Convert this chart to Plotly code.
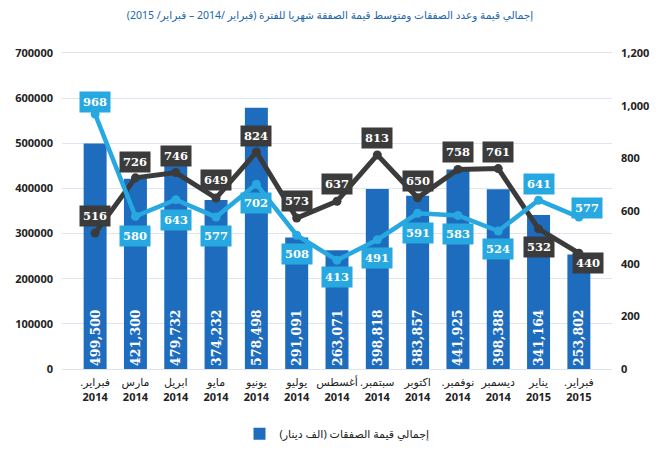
import plotly.graph_objects as go

RLM = "\u200f"
month_names = ["فبراير.", "مارس", "ابريل", "مايو", "يونيو", "يوليو", "أغسطس",
               "سبتمبر.", "اكتوبر", "نوفمبر.", "ديسمبر", "يناير", "فبراير."]
years = ["2014"] * 11 + ["2015"] * 2
total_value = [499500, 421300, 479732, 374232, 578498, 291091, 263071, 398818, 383857, 441925, 398388, 341164, 253802]
deal_count = [516, 726, 746, 649, 824, 573, 637, 813, 650, 758, 761, 532, 440]
avg_value = [968, 580, 643, 577, 702, 508, 413, 491, 591, 583, 524, 641, 577]

months = [f"{RLM}{m}{RLM}<br><b>{y}</b>" for m, y in zip(month_names, years)]

# label placement styling (pixel shifts)
dark_yshift = [17, 16, 17, 18, 16, 17, 17, 17, 17, 17, 17, -18, -10]
dark_xshift = [0] * 12 + [9]
light_yshift = [12, -20, -20, -19, -19, -19, -17, -18, -20, -19, -18, 16, 9]
light_xshift = [0] * 12 + [8]

BAR = "#1e6cbd"
LIGHT = "#27a8e0"
DARK = "#3b3b3b"

fig = go.Figure()
fig.add_trace(go.Bar(
    x=months, y=total_value, name="إجمالي قيمة الصفقات (الف دينار)",
    marker=dict(color=BAR, line=dict(width=0)),
    texttemplate="%{y:,}", textposition="inside", insidetextanchor="start",
    textangle=-90, constraintext="none",
    textfont=dict(family="DejaVu Serif", size=12.5, color="white", weight="bold"),
    yaxis="y", hoverinfo="skip",
))
fig.add_trace(go.Scatter(
    x=months, y=deal_count, mode="lines+markers", showlegend=False,
    line=dict(color=DARK, width=5), marker=dict(color=DARK, size=9),
    yaxis="y2", hoverinfo="skip",
))
fig.add_trace(go.Scatter(
    x=months, y=avg_value, mode="lines+markers", showlegend=False,
    line=dict(color=LIGHT, width=4.5), marker=dict(color=LIGHT, size=9),
    yaxis="y2", hoverinfo="skip",
))

annotations = []
for m, v, ys, xs in zip(months, deal_count, dark_yshift, dark_xshift):
    annotations.append(dict(x=m, y=v, xref="x", yref="y2", text=f"<b>{v}</b>", showarrow=False,
                            yshift=ys, xshift=xs, bgcolor=DARK, borderpad=3,
                            font=dict(family="DejaVu Serif", size=11.5, color="white")))
for m, v, ys, xs in zip(months, avg_value, light_yshift, light_xshift):
    annotations.append(dict(x=m, y=v, xref="x", yref="y2", text=f"<b>{v}</b>", showarrow=False,
                            yshift=ys, xshift=xs, bgcolor=LIGHT, borderpad=3,
                            font=dict(family="DejaVu Serif", size=11.5, color="white")))

fig.update_layout(
    width=660, height=450,
    margin=dict(l=62, r=48, t=53, b=81, autoexpand=False),
    paper_bgcolor="white", plot_bgcolor="white",
    title=dict(text="إجمالي قيمة وعدد الصفقات ومتوسط قيمة الصفقة شهريا للفترة (فبراير /2014 – فبراير/ 2015)",
               x=0.5, xanchor="center", y=0.965, yanchor="middle",
               font=dict(family="Noto Sans, DejaVu Sans", size=10.5, color="#2166ad")),
    bargap=0.43,
    showlegend=True,
    legend=dict(orientation="h", x=0.5, xanchor="center", y=-0.205, yanchor="middle",
                font=dict(family="Noto Sans, DejaVu Sans", size=11, color="#222")),
    xaxis=dict(showgrid=False, showline=True, mirror=True, linecolor="#dde4ec", linewidth=1,
               tickangle=0, automargin=False,
               tickfont=dict(family="Noto Sans, DejaVu Sans", size=11, color="#222"),
               ticks="", ticklabelstandoff=3),
    yaxis=dict(range=[0, 700000], dtick=100000, tickformat="d", showgrid=True,
               gridcolor="#dde6f0", zeroline=False, automargin=False,
               tickfont=dict(family="Open Sans", size=11, color="#222", weight="bold"),
               ticks="", ticklabelstandoff=8),
    yaxis2=dict(range=[0, 1200], dtick=200, tickformat=",d", overlaying="y", side="right",
                showgrid=False, zeroline=False, automargin=False,
                tickfont=dict(family="Open Sans", size=11, color="#222", weight="bold"),
                ticks="", ticklabelstandoff=8),
    annotations=annotations,
)

fig.write_html("out.html")
